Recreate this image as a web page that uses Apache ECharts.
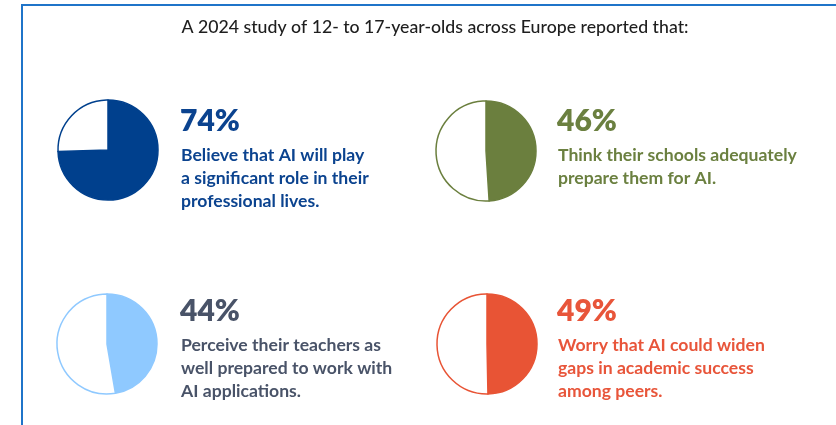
<!DOCTYPE html>
<html>
<head>
<meta charset="utf-8">
<script src="https://cdn.jsdelivr.net/npm/echarts@6/dist/echarts.min.js"></script>
<style>
html,body{margin:0;padding:0;background:#fff;}
#c{width:836px;height:425px;}
</style>
</head>
<body>
<div id="c"></div>
<script>
const titleText = 'A 2024 study of 12- to 17-year-olds across Europe reported that:';
const percentLabels = ['74%', '46%', '44%', '49%'];
// filled share of each pie as drawn in the picture
const pieValues = [74.5, 49, 47.3, 49.7];
const descriptions = [
  'Believe that AI will play\na significant role in their\nprofessional lives.',
  'Think their schools adequately\nprepare them for AI.',
  'Perceive their teachers as\nwell prepared to work with\nAI applications.',
  'Worry that AI could widen\ngaps in academic success\namong peers.'
];
const fillColors = ['#00408d', '#6b7f3e', '#8fc9ff', '#e85435'];
const textColors = ['#0b438f', '#6b8040', '#495368', '#e8553a'];

const pieCenters = [[108, 150], [486, 151], [107, 344], [487, 344]];
const textPos = [[180, 106], [557, 106], [180, 296], [557, 296]];

const chart = echarts.init(document.getElementById('c'), null, {renderer: 'canvas'});
const font = 'Lato, "Noto Sans", sans-serif';

const series = pieValues.map((p, i) => ({
  type: 'pie',
  center: pieCenters[i],
  radius: 50,
  startAngle: 90,
  clockwise: true,
  silent: true,
  label: {show: false},
  labelLine: {show: false},
  animation: false,
  data: [
    {value: p, itemStyle: {color: fillColors[i], borderColor: fillColors[i], borderWidth: 1.5}},
    {value: 100 - p, itemStyle: {color: '#ffffff', borderColor: fillColors[i], borderWidth: 1.5}}
  ]
}));

const graphics = [
  {type: 'line', shape: {x1: 22, y1: 5, x2: 836, y2: 5}, style: {stroke: '#1f74c9', lineWidth: 2}},
  {type: 'line', shape: {x1: 22, y1: 4, x2: 22, y2: 425}, style: {stroke: '#1f74c9', lineWidth: 2}},
  {type: 'text', x: 435, y: 27, style: {text: titleText, font: '500 17.7px ' + font, fill: '#1e1e1e', textAlign: 'center', textVerticalAlign: 'middle'}}
];
percentLabels.forEach((lab, i) => {
  graphics.push({type: 'text', x: textPos[i][0], y: textPos[i][1], style: {text: lab, font: '800 30px ' + font, fill: textColors[i], textAlign: 'left', textVerticalAlign: 'top'}});
  graphics.push({type: 'text', x: textPos[i][0] + 1, y: textPos[i][1] + 38, style: {text: descriptions[i], font: 'bold 17.6px ' + font, fill: textColors[i], textAlign: 'left', textVerticalAlign: 'top', lineHeight: 22.8}});
});

chart.setOption({
  animation: false,
  backgroundColor: '#ffffff',
  series: series,
  graphic: graphics
});
</script>
</body>
</html>
